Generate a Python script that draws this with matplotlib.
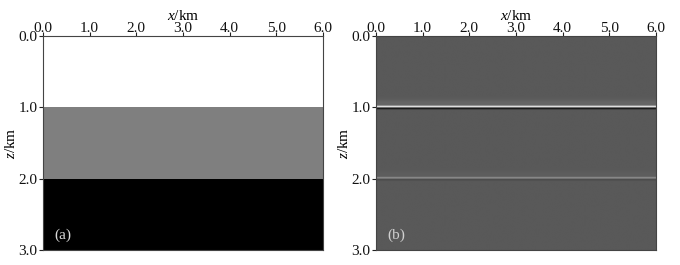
import numpy as np
import matplotlib
matplotlib.use("Agg")
import matplotlib.pyplot as plt

# layered model: interface depths (km) and layer velocities (m/s)
layer_tops = [0.0, 1.0, 2.0]
layer_bottoms = [1.0, 2.0, 3.0]
velocities = [1500, 2500, 3500]

# migrated image: reflector depths and amplitudes (peak above, trough below)
reflector_z = [1.0, 2.0]
peak_amp = [1.25, 0.45]
trough_amp = [0.65, 0.15]

x_ticks = [0, 1, 2, 3, 4, 5, 6]
z_ticks = [0, 1, 2, 3]

plt.rcParams['font.family'] = ['Liberation Serif', 'DejaVu Serif']
plt.rcParams['mathtext.fontset'] = 'custom'
plt.rcParams['mathtext.rm'] = 'Liberation Serif'
plt.rcParams['mathtext.it'] = 'Liberation Serif:italic'

nz = 900
z = np.linspace(0, 3, nz)

model = np.zeros((nz, 2))
for top, bot, v in zip(layer_tops, layer_bottoms, velocities):
    model[(z >= top) & (z <= bot)] = v

image = np.zeros((nz, 2))
for z0, a1, a2 in zip(reflector_z, peak_amp, trough_amp):
    d = z - z0
    col = a1 * np.exp(-((d + 0.012) / 0.012) ** 2) - a2 * np.exp(-((d - 0.014) / 0.012) ** 2)
    col += 0.08 * a1 * np.exp(-((d + 0.06) / 0.05) ** 2)
    image += col[:, None]

fig = plt.figure(figsize=(6.8, 2.65), dpi=100)
ax1 = fig.add_axes([43 / 680, 15 / 265, 280 / 680, 214 / 265])
ax2 = fig.add_axes([376 / 680, 15 / 265, 280 / 680, 214 / 265])

ax1.imshow(model, cmap='gray_r', vmin=1500, vmax=3500, aspect='auto',
           extent=[0, 6, 3, 0], interpolation='nearest')
ax2.imshow(image, cmap='gray', vmin=-0.7, vmax=1.3, aspect='auto',
           extent=[0, 6, 3, 0], interpolation='bilinear')

for ax, lab, col in [(ax1, '(a)', '#d8d8d8'), (ax2, '(b)', '#d0d0d0')]:
    ax.set_xlim(0, 6)
    ax.set_ylim(3, 0)
    ax.xaxis.tick_top()
    ax.xaxis.set_label_position('top')
    ax.set_xticks(x_ticks)
    ax.set_xticklabels(['%.1f' % t for t in x_ticks])
    ax.set_yticks(z_ticks)
    ax.set_yticklabels(['%.1f' % t for t in z_ticks])
    ax.tick_params(labelsize=11, length=3, width=0.8, colors='#222222',
                   labelcolor='#111111')
    ax.tick_params(axis='x', pad=-2)
    ax.tick_params(axis='y', pad=1)
    ax.set_xlabel(r'$x$/km', fontsize=11)
    ax.xaxis.set_label_coords(0.5, 1.075)
    ax.set_ylabel(r'$z$/km', fontsize=11, labelpad=0)
    for s in ax.spines.values():
        s.set_linewidth(0.8)
        s.set_color('#444444')
    ax.text(0.04, 0.05, lab, transform=ax.transAxes, color=col, fontsize=11)

fig.savefig('out.png', dpi=100)
